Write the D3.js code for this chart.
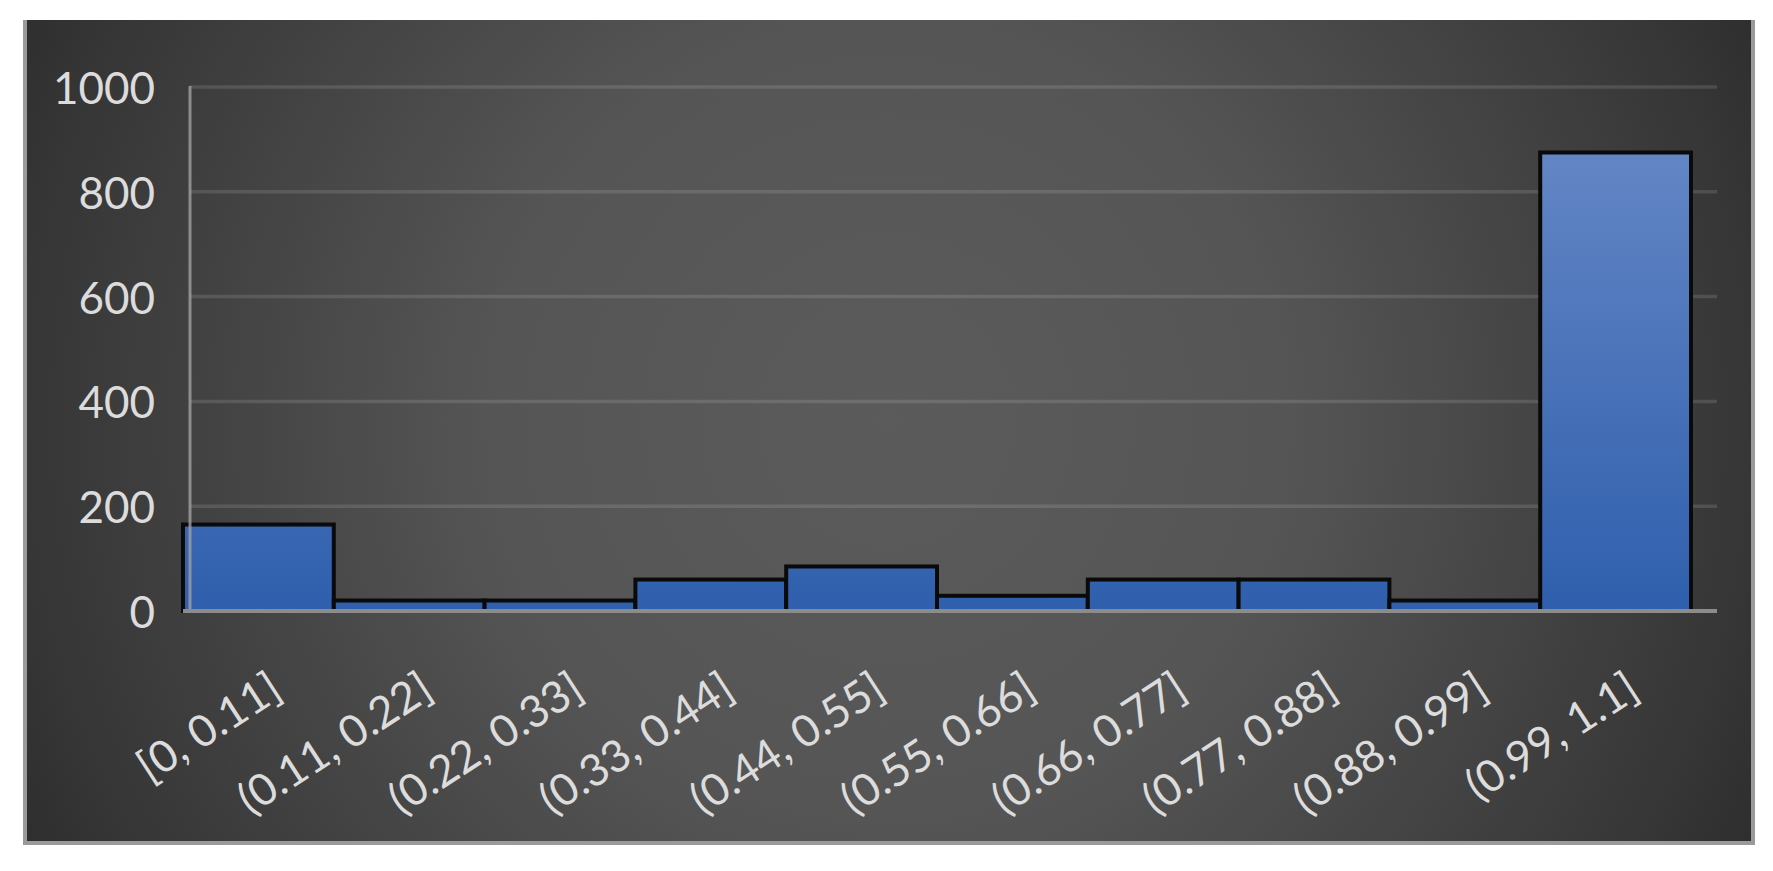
<!DOCTYPE html>
<html>
<head>
<meta charset="utf-8">
<script src="https://cdn.jsdelivr.net/npm/d3@7"></script>
<style>
    body { margin: 0; background: #ffffff; }
    svg text { font-family: Lato, "Open Sans", sans-serif; }
</style>
</head>
<body>
<svg id="chart" width="1773" height="871"></svg>
<script>
//  the data
const binLabels = ["[0, 0.11]", "(0.11, 0.22]", "(0.22, 0.33]", "(0.33, 0.44]", "(0.44, 0.55]",
    "(0.55, 0.66]", "(0.66, 0.77]", "(0.77, 0.88]", "(0.88, 0.99]", "(0.99, 1.1]"];
const binCounts = [165, 20, 20, 60, 85, 29, 60, 60, 20, 875];
const yTicks = [0, 200, 400, 600, 800, 1000];

const svg = d3.select('#chart');
const panel = {left: 25, top: 20, right: 1753, bottom: 843};
const plot = {left: 190, right: 1717, barLeft: 183, barRight: 1691, top: 87, bottom: 611};

const defs = svg.append('defs');

//  dark radial background, lighter in the middle
const bg = defs.append('radialGradient').attr('id', 'bgGrad')
    .attr('gradientUnits', 'userSpaceOnUse')
    .attr('cx', 888).attr('cy', 420).attr('r', 1000);
bg.append('stop').attr('offset', 0).attr('stop-color', '#5b5b5b');
bg.append('stop').attr('offset', 0.4).attr('stop-color', '#555555');
bg.append('stop').attr('offset', 0.85).attr('stop-color', '#373737');
bg.append('stop').attr('offset', 1).attr('stop-color', '#2b2b2b');

//  bar fill, light at the top of the plot, darker at the axis
const barGrad = defs.append('linearGradient').attr('id', 'barGrad')
    .attr('gradientUnits', 'userSpaceOnUse')
    .attr('x1', 0).attr('x2', 0).attr('y1', plot.top).attr('y2', plot.bottom);
barGrad.append('stop').attr('offset', 0).attr('stop-color', '#6a8bc8');
barGrad.append('stop').attr('offset', 1).attr('stop-color', '#2f5fad');

svg.append('rect')
    .attr('x', panel.left).attr('y', panel.top)
    .attr('width', panel.right - panel.left).attr('height', panel.bottom - panel.top)
    .attr('fill', 'url(#bgGrad)');

//  panel border (left, bottom, right; the top is cut off)
svg.append('path')
    .attr('d', `M${panel.left},${panel.top} V${panel.bottom} H${panel.right} V${panel.top}`)
    .attr('fill', 'none').attr('stroke', '#9a9a9a').attr('stroke-width', 4);

//  scales
const x = d3.scaleBand().domain(binLabels).range([plot.barLeft, plot.barRight]).padding(0);
const y = d3.scaleLinear().domain([0, 1000]).range([plot.bottom, plot.top]);

//  gridlines
svg.append('g').selectAll('line')
    .data(yTicks.filter(d => d > 0))
    .join('line')
    .attr('x1', plot.left).attr('x2', plot.right)
    .attr('y1', d => y(d)).attr('y2', d => y(d))
    .attr('stroke', '#ffffff').attr('stroke-opacity', 0.12).attr('stroke-width', 3.5);

//  y tick labels
svg.append('g').selectAll('text')
    .data(yTicks)
    .join('text')
    .attr('x', 155).attr('y', d => y(d))
    .attr('text-anchor', 'end').attr('dominant-baseline', 'central')
    .attr('font-size', 44).attr('fill', '#dcdcdc')
    .text(d => d);

//  the bars
svg.append('g').selectAll('rect')
    .data(binCounts)
    .join('rect')
    .attr('x', (d, i) => x(binLabels[i]))
    .attr('y', d => y(d))
    .attr('width', x.bandwidth())
    .attr('height', d => y(0) - y(d))
    .attr('fill', 'url(#barGrad)')
    .attr('stroke', '#0a0a0a').attr('stroke-width', 4);

//  axis lines, drawn over the bars
svg.append('line')
    .attr('x1', plot.left).attr('x2', plot.left)
    .attr('y1', y(1000) - 1).attr('y2', y(0))
    .attr('stroke', '#a0a0a0').attr('stroke-opacity', 0.8).attr('stroke-width', 3);
svg.append('line')
    .attr('x1', plot.barLeft).attr('x2', plot.right)
    .attr('y1', y(0)).attr('y2', y(0))
    .attr('stroke', '#8c8c8c').attr('stroke-width', 4);

//  rotated category labels
svg.append('g').selectAll('text')
    .data(binLabels)
    .join('text')
    .attr('transform', d => `translate(${x(d) + x.bandwidth() / 2 + 26},696) rotate(-33)`)
    .attr('text-anchor', 'end')
    .attr('font-size', 44).attr('fill', '#dcdcdc')
    .text(d => d);
</script>
</body>
</html>
